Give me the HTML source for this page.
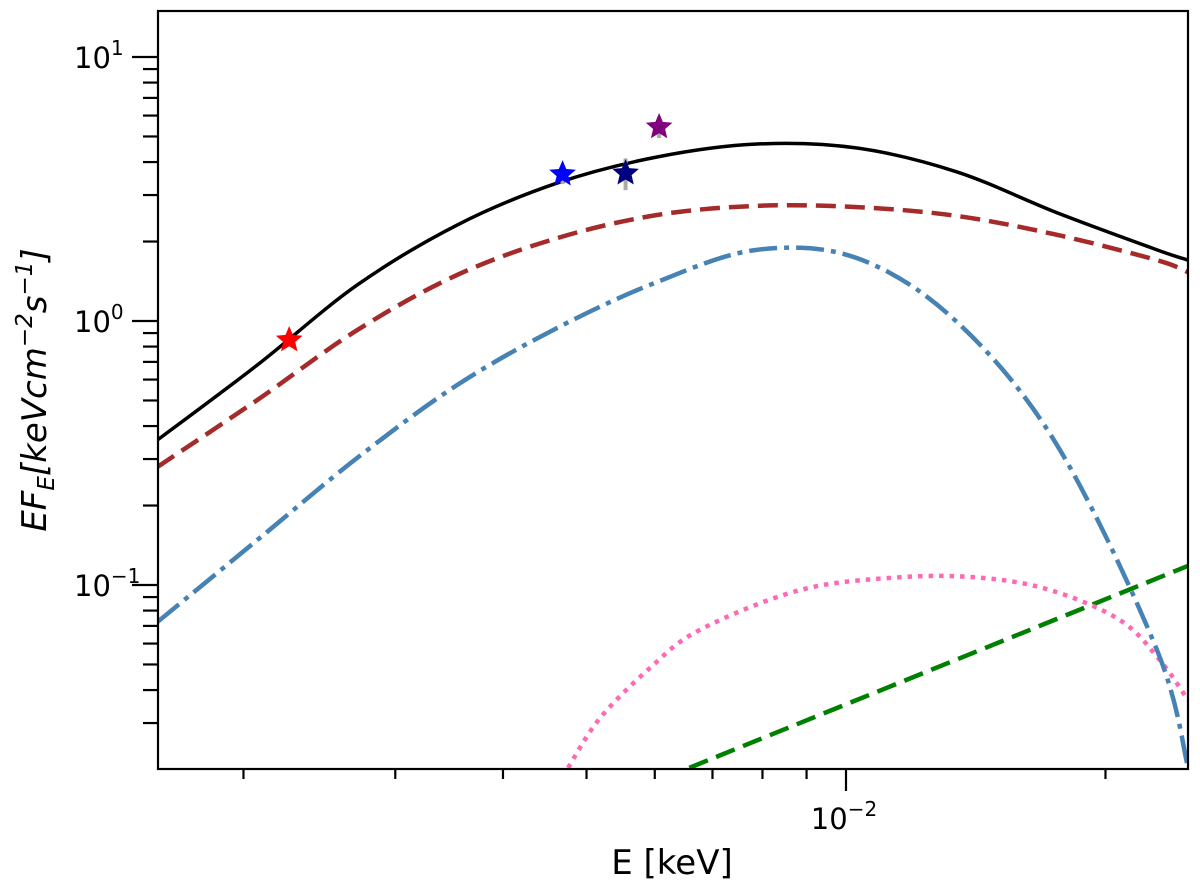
<!DOCTYPE html>
<html><head><meta charset="utf-8"><style>
html,body{margin:0;padding:0;background:#fff;}
svg{display:block;font-family:"DejaVu Sans","Liberation Sans",sans-serif;}
</style></head><body>
<svg id="chart" width="1200" height="886" viewBox="0 0 1200 886">
<g id="curves"></g>
<g id="axes"></g>
<text x="672" y="874" font-size="34" text-anchor="middle">E [keV]</text>
<text transform="translate(46,390) rotate(-90)" font-size="34" text-anchor="middle" font-style="italic">EF<tspan font-size="23" dy="8">E</tspan><tspan dy="-8">[keVcm</tspan><tspan font-size="23" dy="-14">−2</tspan><tspan dy="14">s</tspan><tspan font-size="23" dy="-14">−1</tspan><tspan dy="14">]</tspan></text>
</svg>
<script>
// ---- data ----
const gridE=[0.001589,0.002075,0.002710,0.003539,0.004622,0.006036,0.007883,0.01030,0.01345,0.01757,0.02295,0.02494];
const totalF=[0.354,0.681,1.369,2.31,3.33,4.18,4.68,4.52,3.67,2.57,1.86,1.70];
const brownF=[0.280,0.502,0.924,1.494,2.06,2.52,2.73,2.70,2.50,2.12,1.70,1.53];
const blueF=[0.0724,0.148,0.303,0.572,0.941,1.405,1.86,1.73,0.991,0.339,0.0567,0.0203];
const pinkE=[0.004759,0.005183,0.005923,0.006768,0.008845,0.01155,0.01430,0.01725,0.02078,0.02312,0.02494];
const pinkF=[0.0203,0.0313,0.0485,0.0676,0.0957,0.107,0.1066,0.0957,0.0737,0.052,0.0366];
const greenE=[0.00658,0.0249];
const greenF=[0.0203,0.118];
const starE=[0.00226,0.00469,0.00555,0.00607];
const starF=[0.847,3.60,3.63,5.43];
const starErr=[0,0.3,0.5,0.5];
const starColors=['#ff0000','#0000ff','#00007f','#800080'];
const yMajor=[0.1,1,10];
const yMajorLabels=['−1','0','1'];
const xMajor=[0.01];
const xMajorLabels=['−2'];
// ---- axes ----
const L=158,R=1188,T=11,B=769;
const x=e=>846+(Math.log10(e)+2)*862;
const y=f=>321-Math.log10(f)*264;
const NS='http://www.w3.org/2000/svg';
function mk(tag,attrs,parent){const el=document.createElementNS(NS,tag);for(const k in attrs)el.setAttribute(k,attrs[k]);parent.appendChild(el);return el;}
const axes=document.getElementById('axes'),curves=document.getElementById('curves');
for(let d=-2;d<=1;d++)for(let m=1;m<=9;m++){const v=m*Math.pow(10,d);const py=y(v);if(py<T||py>B)continue;
 const t=mk('line',{x1:L-(m===1?26:15),x2:L,y1:py,y2:py,stroke:'#000','stroke-width':2.2},axes);
 
 }
yMajor.forEach((v,i)=>{const t=mk('text',{x:74,y:y(v)+11,'font-size':29},axes);t.innerHTML='10<tspan font-size="20" dy="-13">'+yMajorLabels[i]+'</tspan>';
 
 });
for(let d=-3;d<=-2;d++)for(let m=1;m<=9;m++){const v=m*Math.pow(10,d);const px=x(v);if(px<L||px>R)continue;
 const t=mk('line',{x1:px,x2:px,y1:B,y2:B+(m===1?22:10),stroke:'#000','stroke-width':2.2},axes);
 
 }
xMajor.forEach((v,i)=>{const t=mk('text',{x:x(v)-2,y:829,'font-size':29,'text-anchor':'middle'},axes);t.innerHTML='10<tspan font-size="20" dy="-13">'+xMajorLabels[i]+'</tspan>';
 
 });
const frame=mk('rect',{x:L,y:T,width:R-L,height:B-T,fill:'none',stroke:'#000','stroke-width':2.2},axes);


const defs=mk('defs',{},curves);const cp=mk('clipPath',{id:'pc'},defs);mk('rect',{x:L,y:T,width:R-L,height:B-T},cp);
curves.setAttribute('clip-path','url(#pc)');
function path(E,F){const p=E.map((e,i)=>[x(e),y(F[i])]);let d='M'+p[0][0]+','+p[0][1];
 for(let i=0;i<p.length-1;i++){const p0=p[Math.max(0,i-1)],p1=p[i],p2=p[i+1],p3=p[Math.min(p.length-1,i+2)];
 d+=' C'+(p1[0]+(p2[0]-p0[0])/6)+','+(p1[1]+(p2[1]-p0[1])/6)+' '+(p2[0]-(p3[0]-p1[0])/6)+','+(p2[1]-(p3[1]-p1[1])/6)+' '+p2[0]+','+p2[1];}
 return d;}
const s1=mk('path',{d:path(greenE,greenF),fill:'none',stroke:'#008000','stroke-width':4.5,'stroke-dasharray':'20 9'},curves);


const s2=mk('path',{d:path(pinkE,pinkF),fill:'none',stroke:'#ff69b4','stroke-width':4.5,'stroke-dasharray':'4.5 6'},curves);


const s3=mk('path',{d:path(gridE,blueF),fill:'none',stroke:'#4682b4','stroke-width':4.5,'stroke-dasharray':'28 7 5 7'},curves);


const s4=mk('path',{d:path(gridE,brownF),fill:'none',stroke:'#a52a2a','stroke-width':4.5,'stroke-dasharray':'20 9'},curves);


const s5=mk('path',{d:path(gridE,totalF),fill:'none',stroke:'#000','stroke-width':3.5},curves);


function star(cx,cy,r){let pts=[];for(let i=0;i<10;i++){const a=-Math.PI/2+i*Math.PI/5;const rr=i%2?r*0.45:r;pts.push((cx+rr*Math.cos(a)).toFixed(1)+','+(cy+rr*Math.sin(a)).toFixed(1));}return pts.join(' ');}
starE.forEach((e,i)=>{const cx=x(e),cy=y(starF[i]);
 if(starErr[i]>0){const eb=mk('line',{x1:cx,x2:cx,y1:y(starF[i]+starErr[i]),y2:y(starF[i]-starErr[i]),stroke:'#aaa','stroke-width':4},curves);
  
  }
 const s=mk('polygon',{points:star(cx,cy,14),fill:starColors[i]},curves);
 
 });
</script>
</body></html>
